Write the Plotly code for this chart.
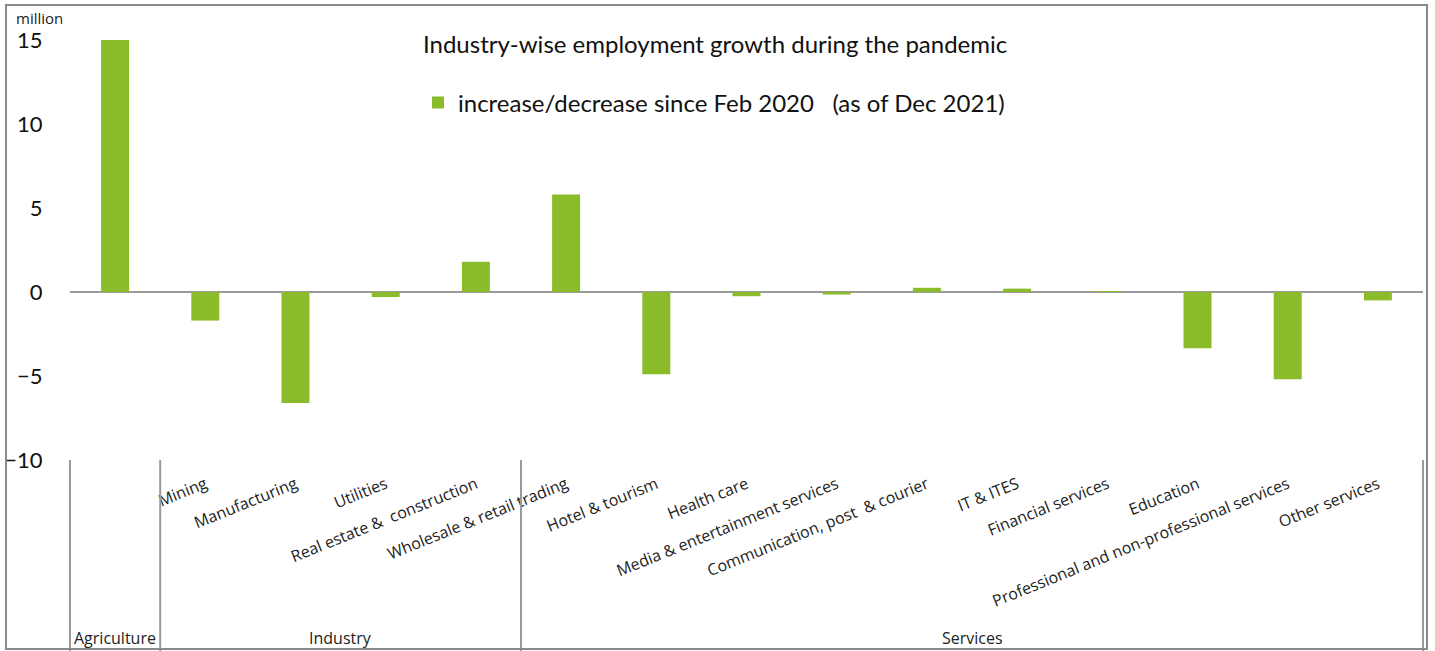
import plotly.graph_objects as go

# Employment change by industry, Feb 2020 -> Dec 2021 (million)
industries = [
    "Agriculture", "Mining", "Manufacturing", "Utilities",
    "Real estate &  construction", "Wholesale & retail trading",
    "Hotel & tourism", "Health care", "Media & entertainment services",
    "Communication, post  & courier", "IT & ITES", "Financial services",
    "Education", "Professional and non-professional services", "Other services",
]
change_mn = [15.0, -1.7, -6.6, -0.3, 1.8, 5.8, -4.9, -0.25, -0.15, 0.25,
             0.2, 0.03, -3.35, -5.2, -0.5]

# Sector groups: (label, first index, last index); a one-member group
# is named only by its sector label below the axis
sectors = [("Agriculture", 0, 0), ("Industry", 1, 4), ("Services", 5, 14)]
tick_labels = []
for name, first, last in sectors:
    for i in range(first, last + 1):
        tick_labels.append("" if first == last else industries[i])

y_ticks = [-10, -5, 0, 5, 10, 15]

GREEN = "#89BC28"
GREY = "#9a9a9a"

W, H = 1435, 651
L, R, T, B = 70, 12, 40, 191
pw, ph = W - L - R, H - T - B


def px_x(p):
    return (p - L) / pw


def px_y(p):
    return (H - B - p) / ph


n = len(industries)

fig = go.Figure()
fig.add_trace(go.Bar(
    x=industries, y=change_mn, width=0.31,
    marker=dict(color=GREEN, line=dict(width=0)),
    name="increase/decrease since Feb 2020\u00a0\u00a0\u00a0(as of Dec 2021)",
    showlegend=True,
))

shapes = []
annotations = []

# separators between sector groups below the axis
bounds = [-0.5] + [last + 0.5 for _, _, last in sectors]
for b in bounds:
    xp = (b + 0.5) / n
    shapes.append(dict(type="line", xref="paper", yref="paper",
                       x0=xp, x1=xp, y0=0, y1=px_y(H + 2),
                       line=dict(color=GREY, width=2)))
for name, first, last in sectors:
    xc = (first + last + 1) / 2 / n
    annotations.append(dict(text=name, xref="paper", yref="paper",
                            x=xc, y=px_y(638), showarrow=False,
                            xanchor="center", yanchor="middle",
                            font=dict(family="Open Sans", size=16, color="#222")))

# outer frame
shapes.append(dict(type="rect", xref="paper", yref="paper",
                   x0=px_x(6), x1=px_x(1427), y0=px_y(649), y1=px_y(5),
                   line=dict(color="#8a8a8a", width=2), fillcolor="rgba(0,0,0,0)"))

annotations.append(dict(text="Industry-wise employment growth during the pandemic",
                        xref="paper", yref="paper", x=px_x(715), y=px_y(44),
                        showarrow=False, xanchor="center", yanchor="middle",
                        font=dict(family="Lato", size=24, color="#111")))
annotations.append(dict(text="million", xref="paper", yref="paper",
                        x=px_x(14), y=px_y(18), showarrow=False,
                        xanchor="left", yanchor="middle",
                        font=dict(family="Open Sans", size=15, color="#222")))

fig.update_layout(
    width=W, height=H,
    margin=dict(l=L, r=R, t=T, b=B, autoexpand=False),
    paper_bgcolor="white", plot_bgcolor="white",
    shapes=shapes, annotations=annotations,
    showlegend=True,
    legend=dict(x=px_x(418), y=px_y(103), xanchor="left", yanchor="middle",
                orientation="h", bgcolor="rgba(0,0,0,0)",
                font=dict(family="Lato", size=24, color="#111")),
)
fig.update_xaxes(
    type="category", range=[-0.5, n - 0.5], automargin=False,
    tickvals=industries, ticktext=tick_labels,
    showgrid=False, showline=False, zeroline=False,
    tickangle=-22, ticks="outside", ticklen=8, tickcolor="rgba(0,0,0,0)",
    tickfont=dict(family="Open Sans", size=16, color="#222"),
)
fig.update_yaxes(
    range=[-10, 15], tickvals=y_ticks, automargin=False,
    showgrid=False, showline=False,
    zeroline=True, zerolinecolor=GREY, zerolinewidth=2,
    ticks="outside", ticklen=22, tickcolor="rgba(0,0,0,0)",
    tickfont=dict(family="Lato", size=22, color="#111"),
)

fig.write_html("out.html")
